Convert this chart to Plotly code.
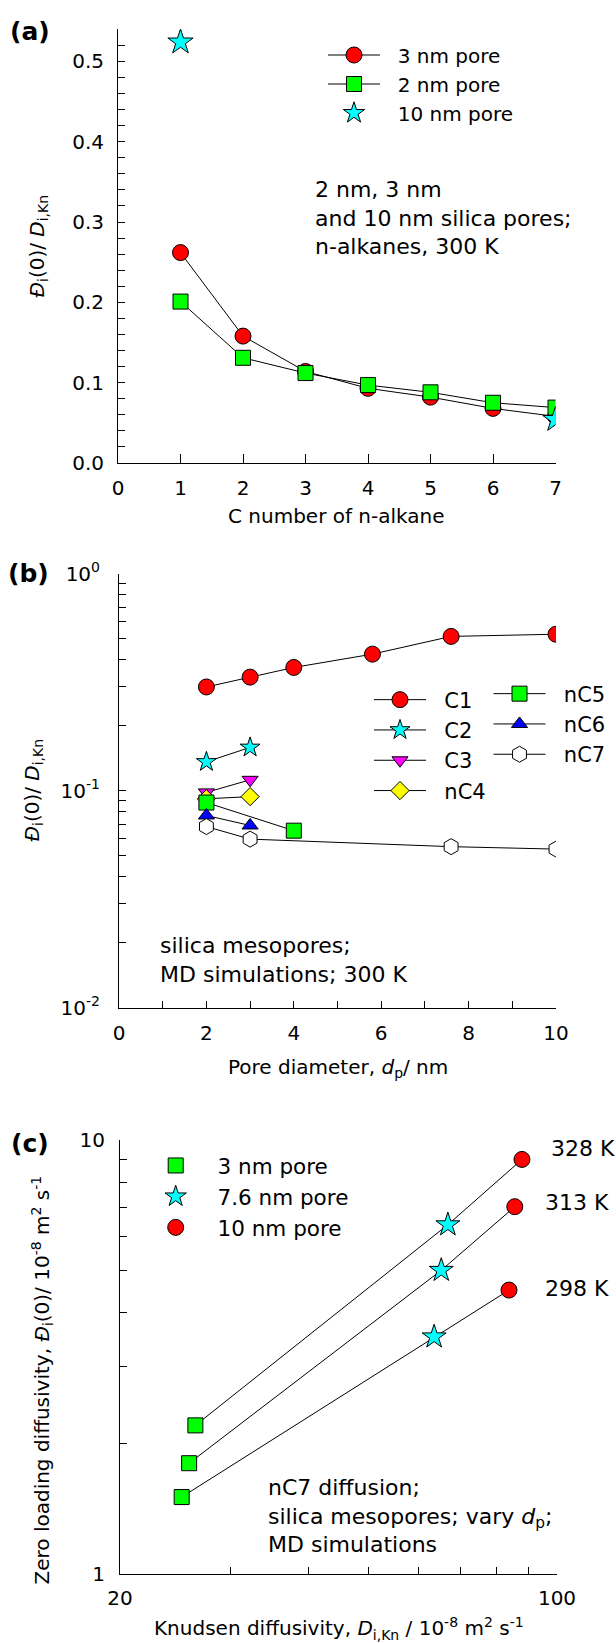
import plotly.graph_objects as go

# ---------------- data ----------------
# (a) D_i(0)/D_i,Kn vs C number, 300 K
c_number = [1, 2, 3, 4, 5, 6, 7]
ratio_3nm = [0.262, 0.158, 0.114, 0.093, 0.082, 0.068, 0.058]
ratio_2nm = [0.201, 0.131, 0.112, 0.097, 0.088, 0.075, 0.069]
c_number_10nm = [1, 7]
ratio_10nm = [0.524, 0.054]

# (b) D_i(0)/D_i,Kn vs pore diameter
dp_C1 = [2, 3, 4, 5.8, 7.6, 10]
r_C1 = [0.300, 0.333, 0.369, 0.425, 0.513, 0.525]
dp_C2 = [2, 3]
r_C2 = [0.1355, 0.158]
dp_C3 = [2, 3]
r_C3 = [0.098, 0.112]
dp_nC4 = [2, 3]
r_nC4 = [0.0916, 0.0937]
dp_nC5 = [2, 4]
r_nC5 = [0.088, 0.0653]
dp_nC6 = [2, 3]
r_nC6 = [0.0767, 0.069]
dp_nC7 = [2, 3, 7.6, 10]
r_nC7 = [0.0682, 0.0597, 0.0551, 0.0537]

# (c) nC7: D_i(0) vs D_i,Kn; points ordered [3 nm, 7.6 nm, 10 nm]
temps = ["328 K", "313 K", "298 K"]
dkn_328 = [26.4, 66.9, 87.9]
d0_328 = [2.20, 6.38, 9.02]
dkn_313 = [25.8, 65.3, 85.6]
d0_313 = [1.80, 5.01, 7.02]
dkn_298 = [25.1, 63.6, 83.8]
d0_298 = [1.504, 3.52, 4.51]

# ---------------- layout helpers ----------------
W, H = 616, 1643
L, R, T, B = 118, 59, 29, 69
PW, PH = W - L - R, H - T - B


def px(x):
    return (x - L) / PW


def py(y):
    return (H - B - y) / PH


FONT = "DejaVu Sans, Arial, sans-serif"
FS_TICK = 20
FS_TITLE = 20
FS_NOTE = 22
BLACK = "black"
NB = "\u00a0"

fig = go.Figure()

mk_line = dict(color=BLACK, width=1)

# ---- panel (a)
fig.add_trace(go.Scatter(x=c_number, y=ratio_3nm, mode="lines+markers", name=NB * 2 + "3 nm pore",
                         line=dict(color=BLACK, width=1),
                         marker=dict(symbol="circle", size=16, color="#ff0000", line=mk_line),
                         xaxis="x", yaxis="y", legend="legend"))
fig.add_trace(go.Scatter(x=c_number, y=ratio_2nm, mode="lines+markers", name=NB * 2 + "2 nm pore",
                         line=dict(color=BLACK, width=1),
                         marker=dict(symbol="square", size=15, color="#00ff00", line=mk_line),
                         xaxis="x", yaxis="y", legend="legend"))
fig.add_trace(go.Scatter(x=c_number_10nm, y=ratio_10nm, mode="markers", name=NB * 2 + "10 nm pore",
                         marker=dict(symbol="star", size=19, color="#00ffff", line=mk_line),
                         xaxis="x", yaxis="y", legend="legend"))

# ---- panel (b)
b_series = [
    ("C1", dp_C1, r_C1, "circle", 16, "#ff0000", "legend2"),
    ("C2", dp_C2, r_C2, "star", 15, "#00ffff", "legend2"),
    ("C3", dp_C3, r_C3, "triangle-down", 14, "#ff00ff", "legend2"),
    ("nC4", dp_nC4, r_nC4, "diamond", 14, "#ffff00", "legend2"),
    ("nC5", dp_nC5, r_nC5, "square", 15, "#00ff00", "legend3"),
    ("nC6", dp_nC6, r_nC6, "triangle-up", 14, "#0000ff", "legend3"),
    ("nC7", dp_nC7, r_nC7, "hexagon", 16, "#ffffff", "legend3"),
]
for name, xs, ys, sym, sz, col, lg in b_series:
    fig.add_trace(go.Scatter(x=xs, y=ys, mode="lines+markers", name=NB * 2 + name,
                             line=dict(color=BLACK, width=1),
                             marker=dict(symbol=sym, size=sz, color=col, line=mk_line),
                             xaxis="x2", yaxis="y2", legend=lg))

# ---- panel (c)
for dkn, d0 in [(dkn_328, d0_328), (dkn_313, d0_313), (dkn_298, d0_298)]:
    fig.add_trace(go.Scatter(x=dkn, y=d0, mode="lines", line=dict(color=BLACK, width=1),
                             showlegend=False, hoverinfo="skip", xaxis="x3", yaxis="y3"))
pores_c = [("3 nm pore", 0, "square", 15, "#00ff00"),
           ("7.6 nm pore", 1, "star", 18, "#00ffff"),
           ("10 nm pore", 2, "circle", 16, "#ff0000")]
for name, idx, sym, sz, col in pores_c:
    fig.add_trace(go.Scatter(x=[dkn_328[idx], dkn_313[idx], dkn_298[idx]],
                             y=[d0_328[idx], d0_313[idx], d0_298[idx]],
                             mode="markers", name=NB + name,
                             marker=dict(symbol=sym, size=sz, color=col, line=mk_line),
                             xaxis="x3", yaxis="y3", legend="legend4"))

# ---------------- axes ----------------
axis_common = dict(showline=True, linecolor=BLACK, linewidth=1, showgrid=False, zeroline=False,
                   ticks="inside", ticklen=7, tickcolor=BLACK, tickwidth=1,
                   tickfont=dict(family=FONT, size=FS_TICK, color=BLACK), mirror=False)
minor_common = dict(tickmode="array", ticks="inside", ticklen=7, tickcolor=BLACK, showgrid=False)

a_xticks = [0, 1, 2, 3, 4, 5, 6, 7]
a_yticks = [0.0, 0.1, 0.2, 0.3, 0.4, 0.5]
a_yminor = [0.02, 0.04, 0.06, 0.08, 0.12, 0.14, 0.16, 0.18, 0.22, 0.24, 0.26, 0.28,
            0.32, 0.34, 0.36, 0.38, 0.42, 0.44, 0.46, 0.48, 0.52]

fig.update_layout(
    xaxis=dict(axis_common, domain=[px(118), px(555.5)], range=[0, 7], anchor="y",
               tickmode="array", tickvals=a_xticks, ticktext=[str(v) for v in a_xticks],
               ticklen=9, ticklabelstandoff=7),
    yaxis=dict(axis_common, domain=[py(463), py(29.3)], range=[0, 0.54], anchor="x",
               tickmode="array", tickvals=a_yticks, ticktext=["%.1f" % v for v in a_yticks],
               minor=dict(minor_common, tickvals=a_yminor),
               ticklabelstandoff=9),
    xaxis2=dict(axis_common, domain=[px(119), px(556)], range=[0, 10], anchor="y2",
                tickmode="array", tickvals=[0, 2, 4, 6, 8, 10],
                ticktext=["0", "2", "4", "6", "8", "10"],
                minor=dict(minor_common, tickvals=[1, 3, 5, 7, 9]),
                ticklabelstandoff=7),
    yaxis2=dict(axis_common, domain=[py(1007.5), py(573.5)], type="log", range=[-2, 0],
                anchor="x2", tickmode="array", tickvals=[0.01, 0.1, 1],
                ticktext=["10<sup>-2</sup>", "10<sup>-1</sup>", "10<sup>0</sup>"],
                minor=dict(minor_common,
                           tickvals=[0.02, 0.03, 0.04, 0.05, 0.06, 0.07, 0.08, 0.09,
                                     0.2, 0.3, 0.4, 0.5, 0.6, 0.7, 0.8, 0.9]),
                ticklabelstandoff=14),
    xaxis3=dict(axis_common, domain=[px(120), px(557)], type="log", range=[1.30103, 2],
                anchor="y3", tickmode="array", tickvals=[20, 100], ticktext=["20", "100"],
                minor=dict(minor_common, tickvals=[30, 40, 50, 60, 70, 80, 90]),
                ticklabelstandoff=6),
    yaxis3=dict(axis_common, domain=[0, py(1140)], type="log", range=[0, 1], anchor="x3",
                tickmode="array", tickvals=[1, 10], ticktext=["1", "10"],
                minor=dict(minor_common, tickvals=[2, 3, 4, 5, 6, 7, 8, 9]),
                ticklabelstandoff=10),
)

# ---------------- legends ----------------
leg_common = dict(bgcolor="rgba(0,0,0,0)", borderwidth=0, xanchor="left", yanchor="top",
                  tracegroupgap=0, itemclick=False)
fig.update_layout(
    legend=dict(leg_common, x=px(323), y=py(35.5), itemwidth=52,
                font=dict(family=FONT, size=20, color=BLACK)),
    legend2=dict(leg_common, x=px(369), y=py(679.5), itemwidth=52,
                 font=dict(family=FONT, size=21, color=BLACK)),
    legend3=dict(leg_common, x=px(488.5), y=py(673.5), itemwidth=52,
                 font=dict(family=FONT, size=21, color=BLACK)),
    legend4=dict(leg_common, x=px(140.7), y=py(1145), itemwidth=60,
                 font=dict(family=FONT, size=21.5, color=BLACK)),
)

# ---------------- annotations ----------------
ann = []


def text_at(x, y, text, size=FS_NOTE, xanchor="left", yanchor="middle", angle=0, bold=False,
            align="left"):
    t = "<b>%s</b>" % text if bold else text
    ann.append(dict(x=px(x), y=py(y), xref="paper", yref="paper", text=t, showarrow=False,
                    xanchor=xanchor, yanchor=yanchor, textangle=angle, align=align,
                    font=dict(family=FONT, size=size, color=BLACK)))


text_at(30, 32, "(a)", size=25, xanchor="center", bold=True)
text_at(28, 573, "(b)", size=25, xanchor="center", bold=True)
text_at(30, 1143, "(c)", size=25, xanchor="center", bold=True)

text_at(313, 217.5, "2 nm, 3 nm<br>and 10 nm silica pores;<br>n-alkanes, 300 K")
text_at(158, 960, "silica mesopores;<br>MD simulations; 300 K")
text_at(266, 1516, "nC7 diffusion;<br>silica mesopores; vary <i>d</i><sub>p</sub>;<br>MD simulations")

text_at(549, 1148.6, temps[0])
text_at(543, 1202.7, temps[1])
text_at(543, 1288.6, temps[2])

ytitle_a = "<i>Đ</i><sub>i</sub>(0)/ <i>D</i><sub>i,Kn</sub>"
text_at(37.5, 246, ytitle_a, size=FS_TITLE, xanchor="center", angle=-90)
text_at(32.5, 790, ytitle_a, size=FS_TITLE, xanchor="center", angle=-90)
text_at(41.5, 1380, "Zero loading diffusivity, <i>Đ</i><sub>i</sub>(0)/ 10<sup>-8</sup> m<sup>2</sup> s<sup>-1</sup>",
        size=FS_TITLE, xanchor="center", angle=-90)

text_at(336, 516, "C number of n-alkane", size=FS_TITLE, xanchor="center")
text_at(337.5, 1068, "Pore diameter, <i>d</i><sub>p</sub>/ nm", size=FS_TITLE, xanchor="center")
text_at(339, 1629, "Knudsen diffusivity, <i>D</i><sub>i,Kn</sub> / 10<sup>-8</sup> m<sup>2</sup> s<sup>-1</sup>",
        size=FS_TITLE, xanchor="center")

fig.update_layout(
    annotations=ann,
    width=W, height=H,
    margin=dict(l=L, r=R, t=T, b=B, autoexpand=False),
    paper_bgcolor="white", plot_bgcolor="white",
    font=dict(family=FONT, size=FS_TICK, color=BLACK),
    hovermode=False,
)

fig.write_html("out.html")
